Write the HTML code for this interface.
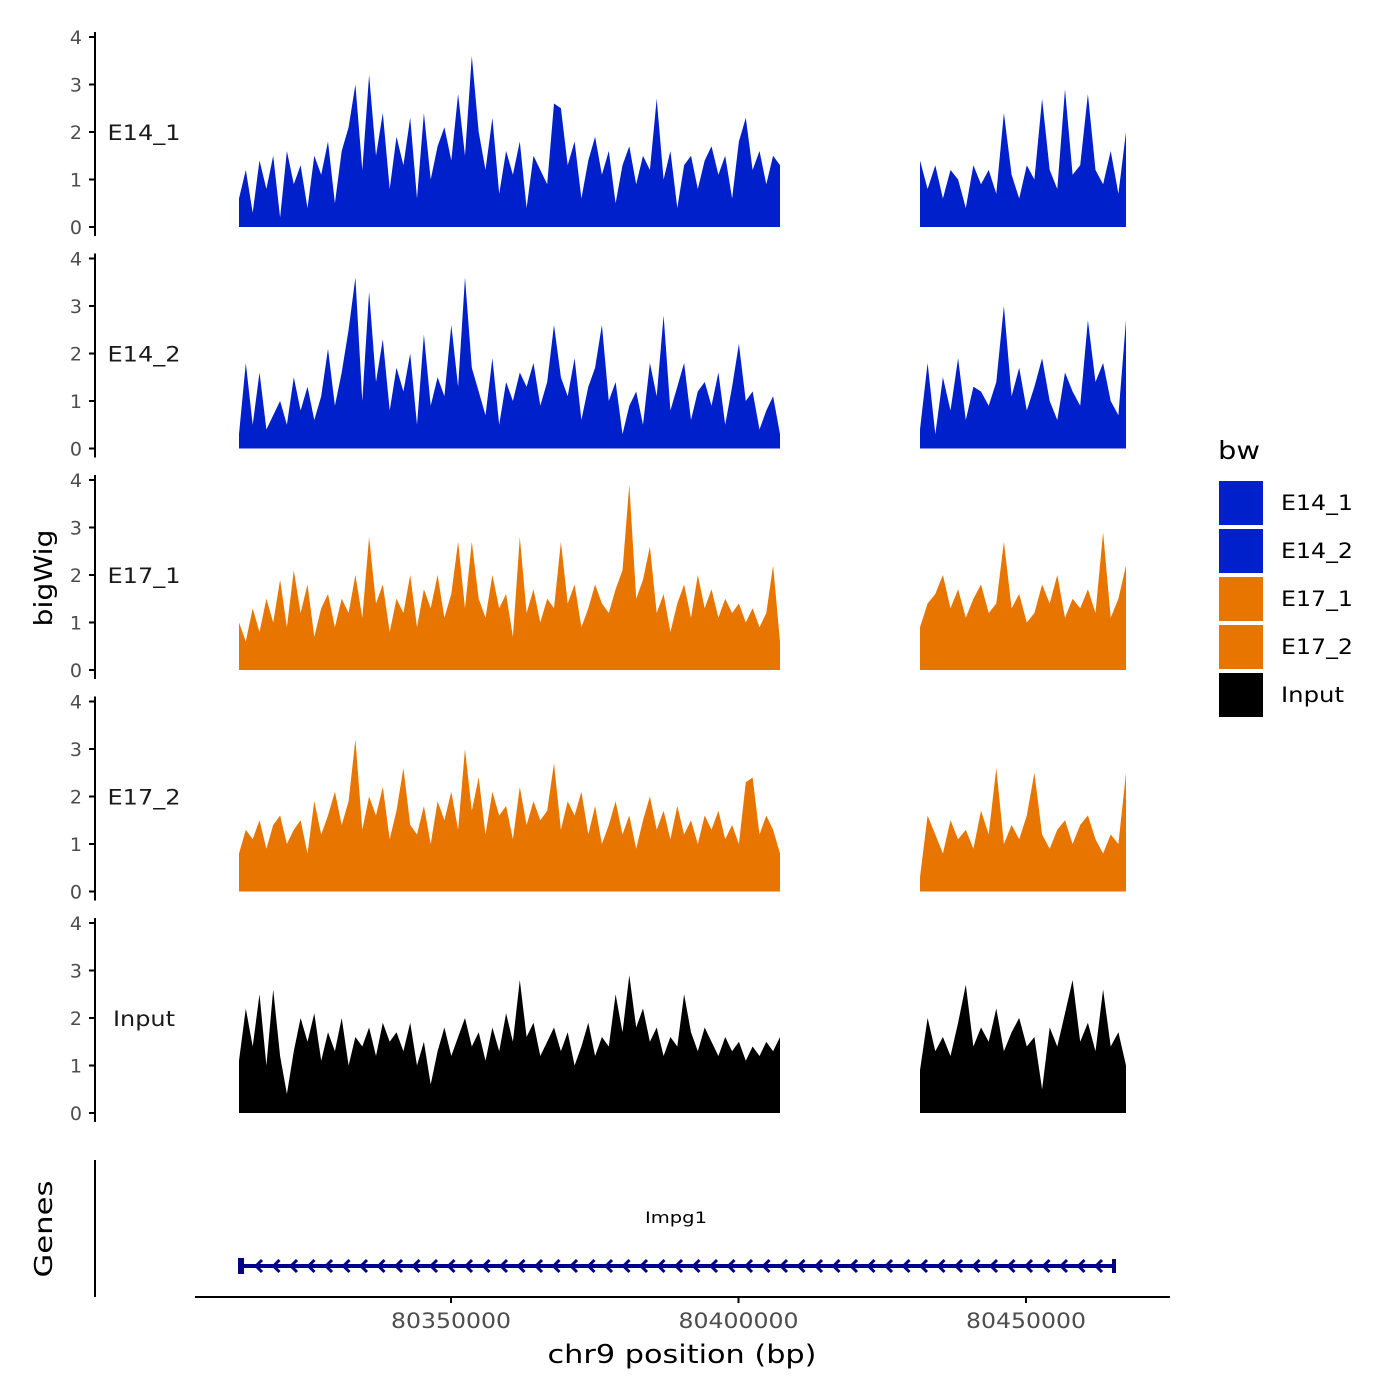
<!DOCTYPE html>
<html><head><meta charset="utf-8"><style>
html,body{margin:0;padding:0;background:#fff;}
svg{display:block;font-family:"DejaVu Sans","Liberation Sans",sans-serif;}
</style></head><body>
<svg id="chart" width="1400" height="1400" viewBox="0 0 1400 1400" xmlns="http://www.w3.org/2000/svg"></svg>
<script>
const trackNames = ["E14_1","E14_2","E17_1","E17_2","Input"];
const trackColors = ["#0020CC","#0020CC","#E87500","#E87500","#000000"];
const yTicks = [0,1,2,3,4];
const xTicks = [80350000,80400000,80450000];
const xTickLabels = ["80350000","80400000","80450000"];
const seg1Range = [80313130,80407217];
const seg2Range = [80431565,80467391];
const geneRange = [80313130,80465478];
const geneName = "Impg1";

const e14_1_a = [0.6,1.2,0.3,1.4,0.8,1.5,0.2,1.6,0.9,1.3,0.4,1.5,1.1,1.8,0.5,1.6,2.1,3.0,1.2,3.2,1.5,2.4,0.8,1.9,1.3,2.3,0.6,2.4,1.0,1.7,2.1,1.4,2.8,1.5,3.6,2.0,1.2,2.3,0.7,1.6,1.1,1.8,0.4,1.5,1.2,0.9,2.6,2.5,1.3,1.8,0.6,1.4,1.9,1.1,1.6,0.5,1.3,1.7,0.9,1.5,1.2,2.7,1.0,1.6,0.4,1.3,1.5,0.8,1.4,1.7,1.1,1.5,0.6,1.8,2.3,1.2,1.6,0.9,1.5,1.3];
const e14_1_b = [1.4,0.8,1.3,0.6,1.2,1.0,0.4,1.3,0.9,1.2,0.7,2.4,1.1,0.6,1.3,1.0,2.7,1.2,0.8,2.9,1.1,1.3,2.8,1.2,0.9,1.6,0.7,2.0];
const e14_2_a = [0.3,1.8,0.5,1.6,0.4,0.7,1.0,0.5,1.5,0.8,1.3,0.6,1.1,2.1,0.9,1.6,2.5,3.6,1.0,3.3,1.4,2.3,0.8,1.7,1.2,2.0,0.5,2.4,0.9,1.5,1.1,2.6,1.3,3.6,1.7,1.2,0.7,1.9,0.5,1.4,1.0,1.6,1.3,1.8,0.9,1.4,2.6,1.5,1.1,1.9,0.6,1.3,1.7,2.6,1.0,1.4,0.3,0.9,1.2,0.5,1.8,1.1,2.8,0.8,1.3,1.8,0.6,1.2,1.4,0.9,1.6,0.5,1.3,2.2,1.0,1.2,0.4,0.8,1.1,0.3];
const e14_2_b = [0.4,1.8,0.3,1.5,0.8,1.9,0.6,1.3,1.2,0.9,1.4,3.0,1.1,1.7,0.8,1.3,1.9,1.0,0.6,1.6,1.2,0.9,2.7,1.4,1.8,1.0,0.7,2.7];
const e17_1_a = [1.0,0.6,1.3,0.8,1.5,1.0,1.9,0.9,2.1,1.2,1.8,0.7,1.3,1.6,0.9,1.5,1.2,2.0,1.1,2.8,1.4,1.8,0.8,1.5,1.2,2.0,0.9,1.7,1.3,2.0,1.1,1.6,2.7,1.3,2.7,1.5,1.1,2.0,1.3,1.6,0.7,2.8,1.2,1.7,1.0,1.5,1.3,2.7,1.4,1.8,0.9,1.3,1.8,1.4,1.2,1.7,2.1,3.9,1.5,1.9,2.6,1.2,1.6,0.8,1.4,1.8,1.1,2.0,1.3,1.7,1.1,1.5,1.2,1.4,1.0,1.3,0.9,1.2,2.2,0.6];
const e17_1_b = [0.9,1.4,1.6,2.0,1.3,1.7,1.1,1.5,1.8,1.2,1.4,2.7,1.3,1.6,1.0,1.2,1.8,1.4,2.0,1.1,1.5,1.3,1.7,1.2,2.9,1.1,1.5,2.2];
const e17_2_a = [0.8,1.3,1.1,1.5,0.9,1.4,1.6,1.0,1.3,1.5,0.8,1.9,1.2,1.6,2.1,1.4,1.9,3.2,1.3,2.0,1.6,2.2,1.1,1.7,2.6,1.4,1.2,1.8,1.0,1.9,1.5,2.1,1.3,3.0,1.7,2.4,1.2,2.1,1.6,1.8,1.1,2.2,1.4,1.9,1.5,1.7,2.7,1.3,1.9,1.6,2.1,1.2,1.8,1.0,1.4,1.9,1.2,1.6,0.9,1.5,2.0,1.3,1.7,1.1,1.8,1.2,1.5,1.0,1.6,1.3,1.7,1.1,1.4,1.0,2.3,2.4,1.2,1.6,1.3,0.8];
const e17_2_b = [0.3,1.6,1.2,0.8,1.5,1.1,1.3,0.9,1.7,1.2,2.6,1.0,1.4,1.1,1.6,2.5,1.2,0.9,1.3,1.5,1.0,1.4,1.6,1.1,0.8,1.2,1.0,2.5];
const input_a = [1.1,2.2,1.4,2.5,1.0,2.6,1.2,0.4,1.3,2.0,1.5,2.1,1.1,1.7,1.3,2.0,1.0,1.6,1.4,1.8,1.2,1.9,1.5,1.7,1.3,1.9,1.0,1.5,0.6,1.3,1.8,1.2,1.6,2.0,1.4,1.7,1.1,1.8,1.3,2.1,1.5,2.8,1.6,1.9,1.2,1.5,1.8,1.3,1.7,1.0,1.4,1.9,1.2,1.6,1.4,2.5,1.7,2.9,1.8,2.2,1.5,1.8,1.2,1.6,1.4,2.5,1.7,1.3,1.8,1.5,1.2,1.6,1.3,1.5,1.1,1.4,1.2,1.5,1.3,1.6];
const input_b = [0.9,2.0,1.3,1.6,1.2,1.9,2.7,1.4,1.8,1.5,2.2,1.3,1.7,2.0,1.4,1.6,0.5,1.8,1.4,2.1,2.8,1.5,1.9,1.3,2.6,1.4,1.7,1.0];
const seg1Values = [e14_1_a,e14_2_a,e17_1_a,e17_2_a,input_a];
const seg2Values = [e14_1_b,e14_2_b,e17_1_b,e17_2_b,input_b];

const NS = "http://www.w3.org/2000/svg";
const svg = document.getElementById('chart');
function mk(tag, attrs, parent, text){
  const e = document.createElementNS(NS, tag);
  for (const k in attrs) e.setAttribute(k, attrs[k]);
  if (text !== undefined) e.textContent = text;
  (parent||svg).appendChild(e);
  return e;
}
const xScale = bp => 451 + (bp - 80350000) * 0.00575;
const baseY = i => 227 + i * 221.5;
const yScale = (i, v) => baseY(i) - v * 47.5;

function areaPath(i, vals, range){
  const n = vals.length;
  let d = "M" + xScale(range[0]).toFixed(1) + "," + baseY(i);
  vals.forEach((v, k) => {
    const bp = range[0] + (range[1]-range[0]) * k/(n-1);
    d += " L" + xScale(bp).toFixed(1) + "," + yScale(i, v).toFixed(1);
  });
  d += " L" + xScale(range[1]).toFixed(1) + "," + baseY(i) + " Z";
  return d;
}

trackNames.forEach((name, i) => {
  const g = mk('g', {});
  
  
  const ax = mk('line', {x1:95, x2:95, y1:yScale(i,4)-5, y2:baseY(i)+9, stroke:'#000', 'stroke-width':2}, g);
  
  
  yTicks.forEach(t => {
    mk('line', {x1:89, x2:95, y1:yScale(i,t), y2:yScale(i,t), stroke:'#000', 'stroke-width':2}, g);
    const tl = mk('text', {x:82, y:yScale(i,t)+7, 'text-anchor':'end', 'font-size':19, fill:'#4d4d4d'}, g, String(t));
    
    
  });
  const lab = mk('text', {x:144, y:yScale(i,2)+8, 'text-anchor':'middle', 'font-size':21, fill:'#1a1a1a', textLength: name==='Input'?62:73, lengthAdjust:'spacingAndGlyphs'}, g, name);
  
  
  const a1 = mk('path', {d:areaPath(i, seg1Values[i], seg1Range), fill:trackColors[i]}, g);
  
  
  const a2 = mk('path', {d:areaPath(i, seg2Values[i], seg2Range), fill:trackColors[i]}, g);
  
  
});

const yt = mk('text', {x:0, y:0, transform:'translate(52,578) rotate(-90)', 'text-anchor':'middle', 'font-size':25, fill:'#000', textLength:97, lengthAdjust:'spacingAndGlyphs'}, svg, 'bigWig');



const gt = mk('text', {x:0, y:0, transform:'translate(52,1229) rotate(-90)', 'text-anchor':'middle', 'font-size':25, fill:'#000', textLength:97, lengthAdjust:'spacingAndGlyphs'}, svg, 'Genes');


const gax = mk('line', {x1:95, x2:95, y1:1160, y2:1297, stroke:'#000', 'stroke-width':2});


const gg = mk('g', {});


const gx0 = xScale(geneRange[0]), gx1 = xScale(geneRange[1]);
mk('line', {x1:gx0, x2:gx1, y1:1266, y2:1266, stroke:'#00008B', 'stroke-width':4}, gg);
mk('rect', {x:gx0-1, y:1258, width:6, height:16, fill:'#00008B'}, gg);
mk('rect', {x:gx1-3, y:1259, width:4, height:14, fill:'#00008B'}, gg);
for (let x = gx0 + 17; x < gx1 - 5; x += 17.5) {
  mk('path', {d:`M${x+6},1260 L${x},1266 L${x+6},1272`, fill:'none', stroke:'#00008B', 'stroke-width':3}, gg);
}
const gl = mk('text', {x:676, y:1223, 'text-anchor':'middle', 'font-size':16, fill:'#000', textLength:62, lengthAdjust:'spacingAndGlyphs'}, gg, geneName);



const xa = mk('line', {x1:195, x2:1170, y1:1297, y2:1297, stroke:'#000', 'stroke-width':2});


xTicks.forEach((t, k) => {
  mk('line', {x1:xScale(t), x2:xScale(t), y1:1297, y2:1303, stroke:'#000', 'stroke-width':2});
  const tl = mk('text', {x:xScale(t), y:1328, 'text-anchor':'middle', 'font-size':21, fill:'#4d4d4d', textLength:120, lengthAdjust:'spacingAndGlyphs'}, svg, xTickLabels[k]);
  
  
});
const xt = mk('text', {x:682, y:1363, 'text-anchor':'middle', 'font-size':26, fill:'#000', textLength:269, lengthAdjust:'spacingAndGlyphs'}, svg, 'chr9 position (bp)');



const lg = mk('g', {});


const ltitle = mk('text', {x:1218, y:459, 'font-size':25, fill:'#000', textLength:42, lengthAdjust:'spacingAndGlyphs'}, lg, 'bw');


trackNames.forEach((name, i) => {
  const e = mk('g', {}, lg);
  
  
  mk('rect', {x:1219, y:481 + i*48, width:44, height:44, fill:trackColors[i]}, e);
  mk('text', {x:1281, y:510 + i*48, 'font-size':21, fill:'#000', textLength: name==='Input'?63:72, lengthAdjust:'spacingAndGlyphs'}, e, name);
});
</script>
</body></html>
